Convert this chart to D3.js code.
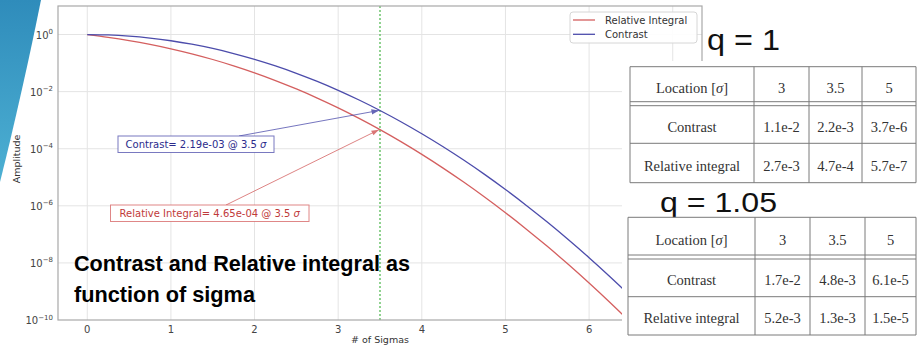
<!DOCTYPE html>
<html><head><meta charset="utf-8">
<script src="https://cdn.jsdelivr.net/npm/d3@7"></script>
<style>html,body{margin:0;padding:0;background:#fff;overflow:hidden;} svg{display:block;}</style>
</head><body>
<svg id="chart" width="917" height="348"></svg>
<script>
// ---------------- data ----------------
const sigmas = [0,0.25,0.5,0.75,1,1.25,1.5,1.75,2,2.25,2.5,2.75,3,3.25,3.5,3.75,4,4.25,4.5,4.75,5,5.25,5.5,5.75,6,6.25,6.5,6.75,7];
const contrast = [1,0.9692,0.8825,0.7548,0.6065,0.4578,0.3247,0.2163,0.1353,0.07956,0.04394,0.02280,0.01111,0.005086,0.002187,8.838e-4,3.355e-4,1.196e-4,4.01e-5,1.261e-5,3.727e-6,1.035e-6,2.70e-7,6.61e-8,1.523e-8,3.29e-9,6.69e-10,1.277e-10,2.29e-11];
const relIntegral = [1,0.8026,0.6171,0.4533,0.3173,0.2113,0.1336,0.0801,0.0455,0.02445,0.01242,0.005960,0.002700,0.001154,4.653e-4,1.768e-4,6.334e-5,2.137e-5,6.795e-6,2.035e-6,5.733e-7,1.520e-7,3.798e-8,8.93e-9,1.973e-9,4.10e-10,8.03e-11,1.48e-11,2.56e-12];
const seriesNames = ["Relative Integral","Contrast"];
const xTicks = [0,1,2,3,4,5,6,7];
const xTickLabels = [0,1,2,3,4,5,6];
const yTicks = [1e0,1e-2,1e-4,1e-6,1e-8,1e-10];
const yTickExp = ["0","\u22122","\u22124","\u22126","\u22128","\u221210"];
const markSigma = 3.5;
const annotContrast = 2.19e-3;
const annotRel = 4.65e-4;
const tableHeader = ["Location [", "\u03c3", "]"];
const locations = ["3","3.5","5"];
const rowLabels = ["Contrast","Relative integral"];
const q1Contrast = ["1.1e-2","2.2e-3","3.7e-6"];
const q1Rel = ["2.7e-3","4.7e-4","5.7e-7"];
const q105Contrast = ["1.7e-2","4.8e-3","6.1e-5"];
const q105Rel = ["5.2e-3","1.3e-3","1.5e-5"];

// ---------------- setup ----------------
const svg = d3.select("#chart");
const plot = {left:58, top:6, right:702, bottom:320};
const x = d3.scaleLinear().domain([-0.35,7.35]).range([plot.left, plot.right]);
const y = d3.scaleLog().domain([1e-10,10]).range([plot.bottom, plot.top]);
const sans = "DejaVu Sans, Verdana, sans-serif";
const RED = "#d45f5f", BLUE = "#4c4cab";

const defs = svg.append("defs");
const grad = defs.append("linearGradient").attr("id","sw").attr("x1",0).attr("y1",0).attr("x2",0).attr("y2",1);
grad.append("stop").attr("offset","0%").attr("stop-color","#2f8cbb");
grad.append("stop").attr("offset","100%").attr("stop-color","#4db0d3");
defs.append("clipPath").attr("id","clip").append("rect")
  .attr("x",plot.left).attr("y",plot.top).attr("width",plot.right-plot.left).attr("height",plot.bottom-plot.top);
defs.append("clipPath").attr("id","swclip").append("rect").attr("x",0).attr("y",0).attr("width",60).attr("height",200);
function marker(id,color){
  defs.append("marker").attr("id",id).attr("viewBox","0 -4 10 8").attr("refX",10).attr("refY",0)
    .attr("markerWidth",8).attr("markerHeight",6).attr("markerUnits","userSpaceOnUse").attr("orient","auto")
    .append("path").attr("d","M0,-3.5L10,0L0,3.5Z").attr("fill",color);
}
marker("arB",BLUE); marker("arR",RED);

// decorative swoosh
svg.append("g").attr("clip-path","url(#swclip)").append("path")
  .attr("d","M0,0 L41,0 C33,40 18,110 0,182 Z").attr("fill","url(#sw)");

// grid
const g = svg.append("g");
g.selectAll(".gx").data(xTicks).join("line")
  .attr("x1",d=>x(d)).attr("x2",d=>x(d)).attr("y1",plot.top).attr("y2",plot.bottom)
  .attr("stroke","#e4e4e4").attr("stroke-width",1);
g.selectAll(".gy").data(yTicks.filter(d=>d>1e-10)).join("line")
  .attr("x1",plot.left).attr("x2",plot.right).attr("y1",d=>y(d)).attr("y2",d=>y(d))
  .attr("stroke","#e4e4e4").attr("stroke-width",1);

// vertical marker
svg.append("line").attr("x1",x(markSigma)).attr("x2",x(markSigma)).attr("y1",plot.top).attr("y2",plot.bottom)
  .attr("stroke","#6cc46c").attr("stroke-width",1.5).attr("stroke-dasharray","2,2");

// curves
const line = d3.line().x((d,i)=>x(sigmas[i])).y(d=>y(Math.max(d,1e-13))).curve(d3.curveMonotoneX);
const cg = svg.append("g").attr("clip-path","url(#clip)");
cg.append("path").attr("d",line(relIntegral)).attr("fill","none").attr("stroke",RED).attr("stroke-width",1.3);
cg.append("path").attr("d",line(contrast)).attr("fill","none").attr("stroke",BLUE).attr("stroke-width",1.3);

// spines
svg.append("rect").attr("x",plot.left).attr("y",plot.top).attr("width",plot.right-plot.left).attr("height",plot.bottom-plot.top)
  .attr("fill","none").attr("stroke","#a8a8a8").attr("stroke-width",1.2);

// legend
const lg = svg.append("g");
lg.append("rect").attr("x",570).attr("y",12).attr("width",127).attr("height",31).attr("rx",3)
  .attr("fill","#fff").attr("fill-opacity",0.9).attr("stroke","#d6d6d6");
[[RED,20],[BLUE,34.3]].forEach((c,i)=>{
  lg.append("line").attr("x1",573).attr("x2",595).attr("y1",c[1]).attr("y2",c[1]).attr("stroke",c[0]).attr("stroke-width",1.3);
  lg.append("text").attr("x",605).attr("y",c[1]+3.6).attr("font-family",sans).attr("font-size",10).attr("fill","#333").text(seriesNames[i]);
});

// annotations
function annot(val, label, color, textColor, box, start, mk){
  const a = svg.append("g");
  a.append("line").attr("x1",start[0]).attr("y1",start[1]).attr("x2",x(markSigma)-1).attr("y2",y(val))
    .attr("stroke",color).attr("stroke-width",0.9).attr("marker-end",`url(#${mk})`).attr("opacity",0.85);
  a.append("rect").attr("x",box[0]).attr("y",box[1]).attr("width",box[2]).attr("height",box[3])
    .attr("fill","#fff").attr("stroke",color).attr("stroke-opacity",0.75);
  const t = a.append("text").attr("x",box[0]+box[2]/2).attr("y",box[1]+box[3]/2+3.6).attr("text-anchor","middle")
    .attr("font-family",sans).attr("font-size",10).attr("fill",textColor);
  t.append("tspan").text(`${label}= ${val.toExponential(2).replace(/e([+-])(\d)$/,"e$10$2")} @ ${markSigma} `);
  t.append("tspan").attr("font-style","italic").text("\u03c3");
}
annot(annotContrast,"Contrast",BLUE,"#2b2b8c",[118,136,156,16.5],[239,136],"arB");
annot(annotRel,"Relative Integral",RED,"#bf3a3a",[110.5,205,198.5,16.5],[226,205],"arR");

// tick labels
svg.append("g").selectAll("text").data(xTickLabels).join("text")
  .attr("x",d=>x(d)).attr("y",333).attr("text-anchor","middle").attr("font-family",sans).attr("font-size",10)
  .attr("fill","#444").text(d=>d);
const yl = svg.append("g").selectAll("text").data(yTicks).join("text")
  .attr("x",53).attr("y",d=>y(d)+4).attr("text-anchor","end").attr("font-family",sans).attr("font-size",10).attr("fill","#444");
yl.append("tspan").text("10");
yl.append("tspan").attr("dy",-4.5).attr("font-size",7).text((d,i)=>yTickExp[i]);

// axis labels
svg.append("text").attr("x",(plot.left+plot.right)/2).attr("y",343).attr("text-anchor","middle")
  .attr("font-family",sans).attr("font-size",9.5).attr("fill","#333").text("# of Sigmas");
svg.append("text").attr("transform",`translate(20,${(plot.top+plot.bottom)/2-4}) rotate(-90)`).attr("text-anchor","middle")
  .attr("font-family",sans).attr("font-size",9.5).attr("fill","#333").text("Amplitude");

// cover for tables
svg.append("rect").attr("x",622).attr("y",61).attr("width",295).attr("height",287).attr("fill","#fff");

// q labels
const qfont = "Liberation Sans, Arial, sans-serif";
svg.append("text").attr("x",707).attr("y",50).attr("font-family",qfont).attr("font-size",29)
  .attr("textLength",73).attr("lengthAdjust","spacingAndGlyphs").attr("fill","#111").text("q = 1");
svg.append("text").attr("x",660).attr("y",211.5).attr("font-family",qfont).attr("font-size",28)
  .attr("textLength",117).attr("lengthAdjust","spacingAndGlyphs").attr("fill","#111").text("q = 1.05");

// tables
const serif = "Liberation Serif, Times New Roman, serif";
function table(cols, rows, contrastVals, relVals){
  const t = svg.append("g");
  const [top, hb, bt, div, bot] = rows;
  const L = cols[0], R = cols[cols.length-1];
  t.append("rect").attr("x",L).attr("y",top).attr("width",R-L).attr("height",bot-top).attr("fill","#fff");
  [top,hb,bt,div,bot].forEach(yy=>t.append("line").attr("x1",L).attr("x2",R).attr("y1",yy).attr("y2",yy).attr("stroke","#7a7a7a").attr("stroke-width",1));
  cols.forEach(xx=>t.append("line").attr("x1",xx).attr("x2",xx).attr("y1",top).attr("y2",bot).attr("stroke","#7a7a7a").attr("stroke-width",1));
  const cx = i=>(cols[i]+cols[i+1])/2;
  const txt = (xx,yy)=>t.append("text").attr("x",xx).attr("y",yy).attr("text-anchor","middle")
    .attr("font-family",serif).attr("font-size",14.5).attr("fill","#333");
  const hy = (top+hb)/2+8.5, r1 = (bt+div)/2+7.5, r2 = (div+bot)/2+7.5;
  const h = txt(cx(0),hy);
  h.append("tspan").text(tableHeader[0]);
  h.append("tspan").attr("font-style","italic").text(tableHeader[1]);
  h.append("tspan").text(tableHeader[2]);
  locations.forEach((d,i)=>txt(cx(i+1),hy).text(d));
  txt(cx(0),r1).text(rowLabels[0]);
  txt(cx(0),r2).text(rowLabels[1]);
  contrastVals.forEach((d,i)=>txt(cx(i+1),r1).text(d));
  relVals.forEach((d,i)=>txt(cx(i+1),r2).text(d));
}
table([630,754,809,862,916],[66.7,101.7,105.7,143.3,182.7],q1Contrast,q1Rel);
table([628,755,810,865,916],[217.3,255,259,296.7,335],q105Contrast,q105Rel);

// title text
const tf = "Liberation Sans Narrow, Arial Narrow, Liberation Sans, Arial, sans-serif";
svg.append("text").attr("x",74).attr("y",271).attr("font-family",tf).attr("font-weight","bold").attr("font-size",22)
  .attr("textLength",336).attr("lengthAdjust","spacingAndGlyphs").attr("fill","#000").text("Contrast and Relative integral as");
svg.append("text").attr("x",74).attr("y",302).attr("font-family",tf).attr("font-weight","bold").attr("font-size",22)
  .attr("textLength",181).attr("lengthAdjust","spacingAndGlyphs").attr("fill","#000").text("function of sigma");
</script>
</body></html>
